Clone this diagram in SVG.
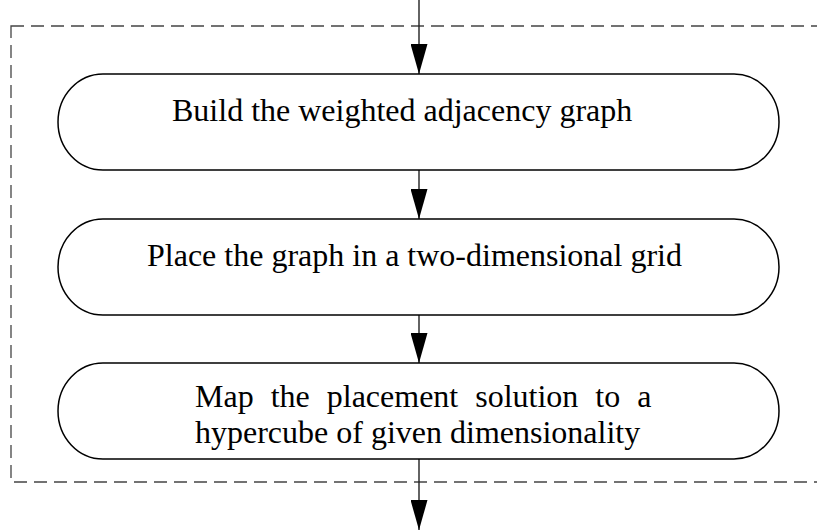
<svg xmlns="http://www.w3.org/2000/svg" width="817" height="531" viewBox="0 0 817 531">
<style>
.box{fill:#fff;stroke:#000;stroke-width:1.5}
.lbl{font-family:"Liberation Serif","Times New Roman",serif;font-size:32px;fill:#000}
.con{stroke:#222;stroke-width:1.4;fill:none;marker-end:url(#ah)}
.frame{fill:none;stroke:#444;stroke-width:1.3;stroke-dasharray:13 7}
</style>
<defs>
<marker id="ah" markerWidth="30" markerHeight="17" refX="30" refY="8.5" orient="auto" markerUnits="userSpaceOnUse" viewBox="0 0 30 17">
<path d="M0,0 L30,8.5 L0,17 Z" fill="#000"/>
</marker>
</defs>
<rect class="frame" x="11" y="26" width="830" height="456"/>
<g id="connectors">
<line class="con" x1="419" y1="0" x2="419" y2="74"/>
<line class="con" x1="419" y1="170" x2="419" y2="219"/>
<line class="con" x1="419" y1="315" x2="419" y2="363"/>
<line class="con" x1="419" y1="459" x2="419" y2="530"/>
</g>
<g id="node1">
<rect class="box" x="58" y="74" width="721" height="96" rx="45" ry="48"/>
<text class="lbl" x="172" y="121">Build the weighted adjacency graph</text>
</g>
<g id="node2">
<rect class="box" x="58" y="219" width="721" height="96" rx="45" ry="48"/>
<text class="lbl" x="147" y="266">Place the graph in a two-dimensional grid</text>
</g>
<g id="node3">
<rect class="box" x="58" y="363" width="721" height="96" rx="45" ry="48"/>
<text class="lbl" x="195" y="407" word-spacing="9">Map the placement solution to a</text>
<text class="lbl" x="195" y="443">hypercube of given dimensionality</text>
</g>
</svg>
